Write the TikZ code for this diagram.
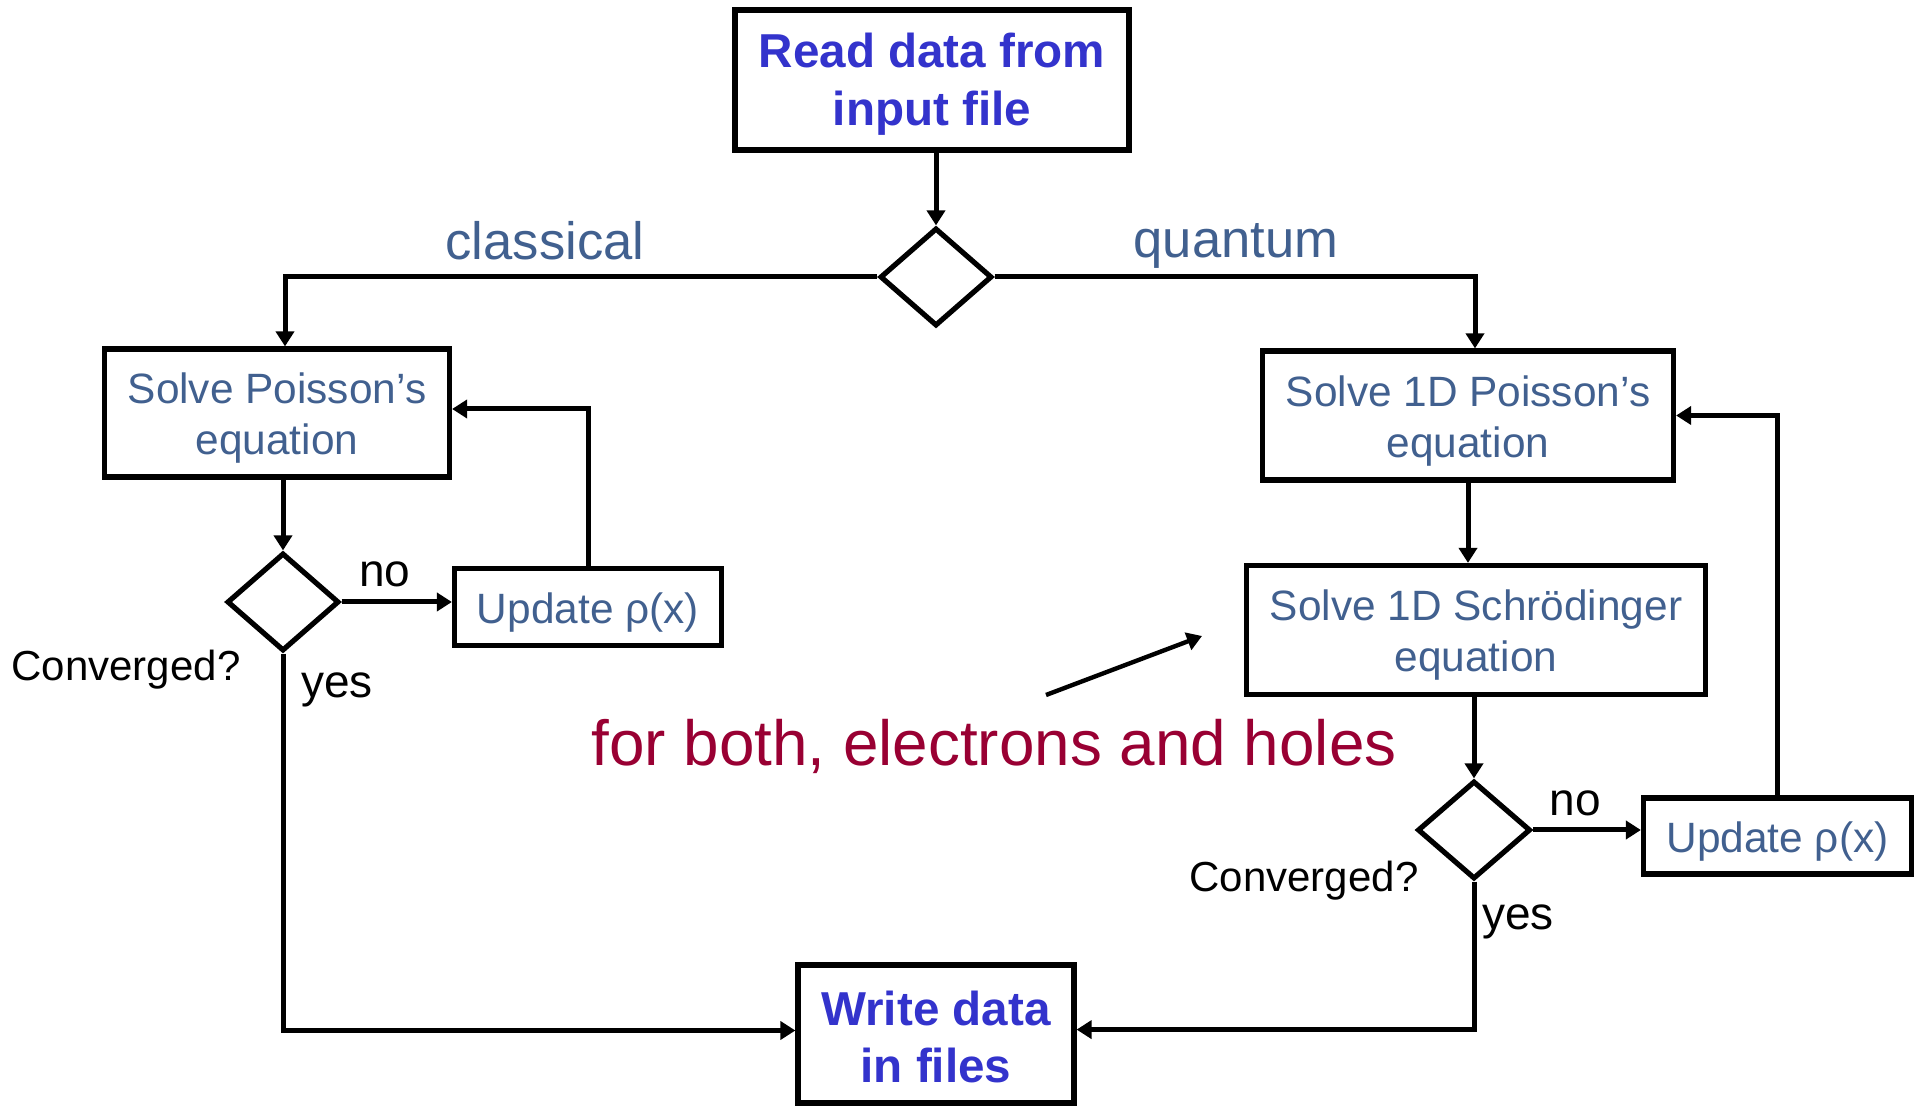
\documentclass[tikz,border=0pt]{standalone}
\usepackage{fontspec}
\setmainfont{Liberation Sans}
\usetikzlibrary{shapes.geometric,arrows.meta,calc}
\definecolor{tblue}{HTML}{3333CC}
\definecolor{slate}{HTML}{41608F}
\definecolor{wine}{HTML}{990033}
\newcommand\bxt[2][3pt]{\raisebox{0pt}[\dimexpr\height+#1*2\relax][\depth]{\begin{tabular}{@{}c@{}}#2\end{tabular}}}
\begin{document}
\begin{tikzpicture}[x=0.5pt,y=-0.5pt,
  box/.style={draw, line width=2.6pt, inner sep=0pt, align=center, text=slate,
    font=\fontsize{21.2}{25.5}\selectfont},
  bbox/.style={box, text=tblue, font=\fontsize{23.8}{28.6}\selectfont\bfseries},
  dia/.style={draw, diamond, line width=2.6pt, inner sep=0pt},
  arr/.style={line width=2.5pt, -{Triangle[length=7.5pt,width=9pt]}},
  branch/.style={text=slate, font=\fontsize{26.3}{30}\selectfont, anchor=base, inner sep=0pt},
  yn/.style={font=\fontsize{23}{27}\selectfont, anchor=base, inner sep=0pt},
  conv/.style={font=\fontsize{21}{25}\selectfont, anchor=base, inner sep=0pt}]
\useasboundingbox (0,0) rectangle (1919,1106);

% nodes
\node[bbox, minimum width=197pt, minimum height=70pt] (read) at (932,80) {\bxt[2.5pt]{Read data from\\input file}};
\node[dia, minimum width=56pt, minimum height=49pt] (topd) at (936,277) {};
\node[box, minimum width=172.5pt, minimum height=64pt] (lbox) at (277,413) {\bxt{Solve Poisson’s\\equation}};
\node[box, minimum width=205.5pt, minimum height=64.5pt] (rbox1) at (1468,415.5) {\bxt{Solve 1D Poisson’s\\equation}};
\node[box, minimum width=229.5pt, minimum height=64.5pt] (rbox2) at (1476,630) {\bxt{Solve 1D Schrödinger\\equation}};
\node[dia, minimum width=56pt, minimum height=49pt] (ld) at (283,602) {};
\node[dia, minimum width=56.5pt, minimum height=49pt] (rd) at (1474,830) {};
\node[box, minimum width=133.5pt, minimum height=38.5pt] (lupd) at (588,607) {\bxt{Update ρ(x)}};
\node[box, minimum width=134pt, minimum height=38pt] (rupd) at (1777.5,836) {\bxt{Update ρ(x)}};
\node[bbox, minimum width=138pt, minimum height=69pt] (write) at (936,1034) {\bxt[4.3pt]{Write data\\in files}};

% labels
\node[branch] (lcl) at (545,260) {classical};
\node[branch] (lqu) at (1236,258) {quantum};
\node[yn] (lno) at (385,587) {no};
\node[yn] (lyes) at (337,698) {yes};
\node[conv] (lconv) at (126,681) {Converged?};
\node[yn] (rno) at (1575,816) {no};
\node[yn] (ryes) at (1518,930) {yes};
\node[conv] (rconv) at (1304,892) {Converged?};
\node[text=wine, font=\fontsize{31.9}{36}\selectfont, anchor=base, inner sep=0pt] (both) at (994,766) {for both, electrons and holes};

% connectors
\draw[arr] (read.south -| topd.north) -- (topd.north);
\draw[arr] (topd.west) -| ([xshift=4pt]lbox.north);
\draw[arr] (topd.east) -| ([xshift=3.5pt]rbox1.north);
\draw[arr] (ld.north |- lbox.south) -- (ld.north);
\draw[arr] (ld.east) -- (ld.east -| lupd.west);
\draw[arr] (lupd.north) |- ([yshift=2pt]lbox.east);
\draw[arr] (ld.south) |- ([yshift=1.75pt]write.west);
\draw[arr] (rbox1.south) -- (rbox1.south |- rbox2.north);
\draw[arr] (rd.north |- rbox2.south) -- (rd.north);
\draw[arr] (rd.east) -- (rd.east -| rupd.west);
\draw[arr] (rupd.north) |- (rbox1.east);
\draw[arr] (rd.south) |- ([yshift=2.2pt]write.east);
\coordinate (p1) at (1046,695);
\coordinate (p2) at (1202,636);
\draw[arr, line width=2.2pt] (p1) -- (p2);
\end{tikzpicture}
\end{document}
